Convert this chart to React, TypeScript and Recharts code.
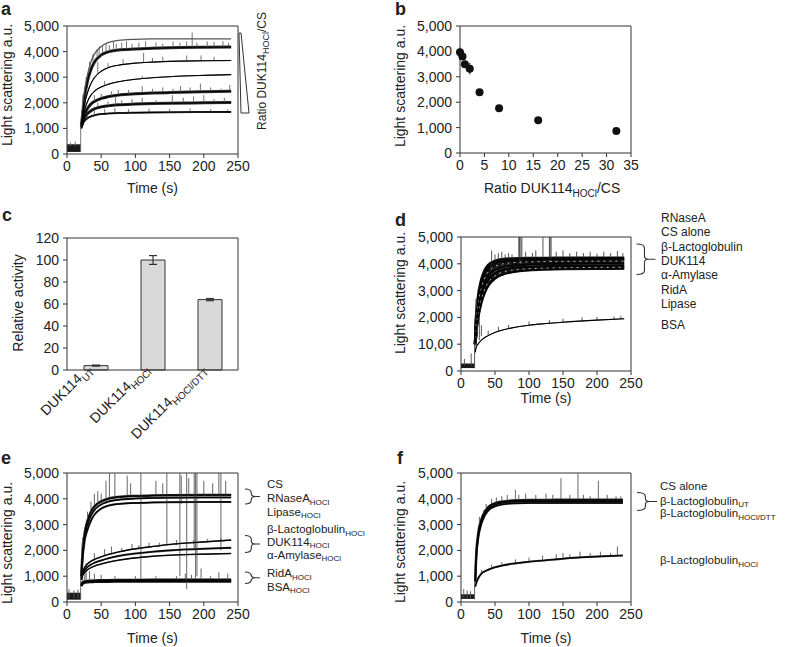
import React from 'react';
import {
  ComposedChart,
  ScatterChart,
  BarChart,
  Line,
  Area,
  Bar,
  Scatter,
  ErrorBar,
  XAxis,
  YAxis,
  CartesianGrid,
} from 'recharts';

// ---------------- DATA ----------------
type Spike = [number, number, number]; // time, low, high

const TICKS_T = [0, 50, 100, 150, 200, 250];
const TICKS_LS = [0, 1000, 2000, 3000, 4000, 5000];
const LS_LABELS = ['0', '1,000', '2,000', '3,000', '4,000', '5,000'];
const D_LS_LABELS = ['0', '10,00', '2,000', '3,000', '4,000', '5,000'];

const TIME_K = [21, 22, 25, 30, 35, 40, 50, 60, 75, 100, 125, 150, 200, 240];
const TIME_F = [21, 22, 25, 30, 35, 40, 50, 60, 75, 100, 125, 150, 200, 238];
const BASE_T = [0, 20];

// panel a
const A1 = [1100, 1400, 2300, 3100, 3600, 3900, 4200, 4350, 4440, 4480, 4495, 4500, 4500, 4500];
const A2 = [1100, 1350, 2100, 2850, 3300, 3580, 3870, 3990, 4060, 4100, 4130, 4150, 4170, 4180];
const A3 = [1100, 1300, 1850, 2400, 2750, 2980, 3230, 3370, 3470, 3550, 3590, 3620, 3640, 3650];
const A4 = [1100, 1250, 1650, 2050, 2300, 2450, 2620, 2720, 2820, 2920, 2980, 3020, 3070, 3100];
const A5 = [1050, 1200, 1500, 1780, 1950, 2050, 2170, 2240, 2300, 2350, 2380, 2400, 2430, 2450];
const A6 = [1050, 1150, 1380, 1580, 1690, 1760, 1840, 1880, 1920, 1950, 1970, 1985, 2000, 2010];
const A7 = [1000, 1100, 1270, 1400, 1470, 1510, 1560, 1580, 1600, 1615, 1625, 1632, 1640, 1645];
const A_BASE_V = [80, 380];
const A_SPIKES: Spike[] = [
  [20, 100, 1150], [5, 300, 450], [12, 300, 480],
  [21.5, 1200, 1700], [23, 1500, 2300], [24, 1400, 2000], [26, 1800, 2500], [28, 2300, 3000],
  [33, 3200, 3600], [38, 3500, 3900], [44, 3750, 4100], [47, 3800, 4200], [52, 3900, 4250],
  [57, 3950, 4300], [62, 4000, 4250], [68, 4000, 4400], [72, 4050, 4300], [80, 4050, 4350],
  [87, 4070, 4400], [95, 4090, 4300], [105, 4100, 4350], [115, 4110, 4400], [130, 4130, 4350],
  [140, 4140, 4300], [155, 4150, 4400], [165, 4160, 4350], [175, 4160, 4400], [183, 4165, 4750],
  [190, 4170, 4350], [205, 4170, 4400], [215, 4175, 4380], [228, 4180, 4400], [236, 4180, 4350],
  [45, 3150, 3600], [60, 3370, 3550], [82, 3500, 3700], [112, 3570, 3950], [125, 3590, 3750],
  [140, 3610, 3800], [175, 3630, 3850], [196, 3640, 3850], [215, 3645, 3800],
  [55, 2670, 2850], [110, 2940, 3050],
  [40, 2050, 2300], [50, 2170, 2350], [65, 2260, 2450], [75, 2300, 2500], [90, 2340, 2500],
  [110, 2360, 2650], [125, 2380, 2550], [140, 2390, 2600], [155, 2405, 2550], [166, 2410, 2650],
  [180, 2420, 2600], [195, 2425, 2750], [210, 2430, 2600], [225, 2440, 2550], [238, 2450, 2700],
  [45, 1800, 2000], [60, 1880, 2050], [71, 1910, 2300], [80, 1930, 2100], [95, 1945, 2150],
  [110, 1960, 2200], [130, 1975, 2100], [154, 1990, 2300], [170, 1995, 2200], [185, 2000, 2250],
  [200, 2000, 2300], [215, 2005, 2150], [230, 2010, 2200],
  [30, 1400, 1600], [40, 1510, 1700], [55, 1570, 1750], [70, 1595, 1800], [90, 1610, 1750],
  [120, 1620, 1780], [150, 1632, 1760], [180, 1637, 1780], [210, 1640, 1760], [235, 1645, 1750],
];

// panel b
const B_RATIO = [0, 0.5, 1, 2, 4, 8, 16, 32];
const B_SCATTER = [3970, 3800, 3490, 3320, 2390, 1760, 1290, 870];
const B_ERR = [180, 80, 60, 230, 60, 100, 50, 50];
const B_TICKS = [0, 5, 10, 15, 20, 25, 30, 35];

// panel c
const C_NAMES = ['DUK114_UT', 'DUK114_HOCl', 'DUK114_HOCl/DTT'];
const C_SUBS = ['UT', 'HOCl', 'HOCl/DTT'];
const C_VALUES = [4, 100, 64];
const C_ERR = [0.5, 4, 1];
const C_TICKS = [0, 20, 40, 60, 80, 100, 120];

// panel d
const D1 = [1000, 1800, 2700, 3400, 3750, 3950, 4100, 4160, 4190, 4205, 4210, 4215, 4220, 4220];
const D2 = [1000, 1700, 2550, 3250, 3620, 3830, 4010, 4080, 4120, 4145, 4155, 4160, 4168, 4170];
const D3 = [1000, 1600, 2400, 3100, 3480, 3700, 3900, 3990, 4040, 4070, 4085, 4090, 4098, 4100];
const D4 = [1000, 1500, 2250, 2950, 3330, 3560, 3780, 3880, 3940, 3980, 4000, 4010, 4018, 4020];
const D5 = [1000, 1450, 2150, 2800, 3180, 3420, 3650, 3770, 3840, 3885, 3905, 3915, 3925, 3930];
const D6 = [1000, 1400, 2050, 2680, 3060, 3300, 3550, 3680, 3760, 3815, 3840, 3852, 3865, 3870];
const D7 = [1000, 1350, 1950, 2550, 2930, 3180, 3450, 3590, 3690, 3760, 3790, 3805, 3815, 3820];
const D8 = [700, 850, 1000, 1150, 1250, 1320, 1440, 1520, 1610, 1710, 1770, 1820, 1900, 1950];
const D_BASE_V = [110, 280];
const D_SPIKES: Spike[] = [
  [20, 100, 1000], [22, 900, 2700], [23, 1500, 2500], [24, 1300, 2400], [27, 1150, 2000],
  [30, 1300, 1700], [5, 200, 450], [15, 200, 650],
  [45, 3900, 4500], [50, 4050, 4350], [55, 4100, 4400], [60, 4150, 4450], [65, 4150, 4350],
  [70, 4170, 4400], [75, 4180, 4350],
  [85, 4100, 5200], [86, 4100, 5200], [88, 4000, 5200], [89.5, 4100, 5200],
  [95, 4200, 4450], [105, 4200, 4400], [110, 4200, 4500], [120.5, 4150, 5100],
  [130, 4100, 5200], [131, 4100, 5200], [132.5, 4050, 5200],
  [140, 4210, 4450], [150, 4215, 4500], [160, 4215, 4400], [170, 4218, 4450], [180, 4218, 4400],
  [190, 4220, 4450], [200, 4220, 4380], [210, 4220, 4450], [220, 4220, 4400], [230, 4220, 4480],
  [238, 4220, 4400],
  [40, 1320, 1500], [55, 1480, 1650], [70, 1590, 1720], [100, 1710, 1850], [130, 1780, 1900],
  [150, 1820, 1950], [178, 1870, 2000], [200, 1900, 2020], [225, 1930, 2030], [235, 1945, 2050],
];

// panel e
const E1 = [1000, 1600, 2500, 3150, 3500, 3700, 3900, 4000, 4070, 4110, 4130, 4140, 4150, 4150];
const E2 = [1000, 1500, 2400, 3000, 3350, 3560, 3780, 3890, 3960, 4010, 4030, 4040, 4050, 4050];
const E3 = [1000, 1400, 2250, 2800, 3150, 3380, 3620, 3730, 3800, 3840, 3860, 3870, 3878, 3880];
const E4 = [900, 1080, 1300, 1480, 1580, 1650, 1750, 1840, 1940, 2060, 2150, 2230, 2330, 2400];
const E5 = [880, 1030, 1200, 1360, 1450, 1520, 1610, 1690, 1780, 1880, 1950, 2000, 2065, 2100];
const E6 = [860, 980, 1120, 1250, 1330, 1390, 1470, 1540, 1620, 1710, 1770, 1810, 1855, 1880];
const E7 = [650, 730, 780, 805, 815, 822, 830, 835, 840, 845, 848, 850, 852, 855];
const E8 = [620, 700, 750, 775, 785, 790, 795, 798, 800, 802, 803, 804, 805, 806];
const E_BASE_V = [90, 360];
const E_SPIKES: Spike[] = [
  [20, 100, 1000], [3, 150, 500], [10, 150, 450], [16, 150, 480],
  [22, 1300, 2300], [23, 1700, 2500], [26, 2200, 2900], [30, 2900, 3500], [35, 3300, 3900],
  [40, 3600, 4200], [45, 3700, 4300], [50, 3800, 4200],
  [57, 3800, 4700], [62, 3850, 5100], [70, 3950, 5100], [88, 4050, 4900], [93, 4050, 4600],
  [108, 900, 5100], [130, 4100, 4700], [140, 4100, 4600], [146, 2200, 5100], [165, 1000, 5100],
  [167, 3800, 4900], [175, 500, 5100], [178, 4100, 4800], [186, 2000, 5000], [188, 900, 5100],
  [190, 1000, 5100], [200, 4100, 4700], [213, 4100, 4600], [222, 4100, 5100], [225, 2000, 5100],
  [232, 4100, 4700],
  [40, 1600, 1900], [55, 1800, 2050], [65, 1900, 2150], [80, 1950, 2100], [95, 2050, 2250],
  [105, 2050, 2200], [120, 2100, 2300], [135, 2150, 2300], [160, 2200, 2400], [185, 2250, 2400],
  [205, 2300, 2450], [225, 2350, 2480],
  [23, 700, 1400], [26, 760, 1200], [28, 780, 1500], [33, 800, 1200], [40, 820, 1100],
  [50, 830, 1050], [70, 840, 1000], [100, 850, 1000], [130, 850, 1000], [160, 855, 1000],
  [173, 855, 1100], [182, 855, 1050], [196, 855, 1300], [210, 855, 1000], [222, 855, 1150],
  [235, 855, 1100],
];

// panel f
const F1 = [800, 1600, 2600, 3200, 3500, 3680, 3830, 3890, 3930, 3950, 3955, 3960, 3960, 3960];
const F2 = [800, 1550, 2500, 3120, 3430, 3610, 3770, 3840, 3880, 3895, 3900, 3900, 3900, 3900];
const F3 = [800, 1500, 2400, 3030, 3350, 3540, 3710, 3780, 3820, 3835, 3840, 3840, 3840, 3840];
const F4 = [600, 700, 900, 1100, 1190, 1250, 1350, 1410, 1480, 1560, 1620, 1680, 1760, 1800];
const F_BASE_V = [120, 300];
const F_SPIKES: Spike[] = [
  [20, 100, 800], [4, 150, 500], [9, 150, 450], [14, 150, 420],
  [27, 2800, 3300], [33, 3300, 3550], [37, 3500, 3800], [45, 3750, 4000], [52, 3850, 4050],
  [60, 3880, 4100], [68, 3900, 4150], [80, 3920, 4350], [85, 3930, 4150], [95, 3940, 4200],
  [110, 3950, 4150], [125, 3950, 4200], [135, 3955, 4150], [147, 3950, 4800], [160, 3960, 4150],
  [172, 3950, 5100], [180, 3960, 4150], [190, 3960, 4100], [202, 3960, 4700], [215, 3960, 4150],
  [228, 3960, 4100], [235, 3960, 4100],
  [30, 1100, 1250], [45, 1300, 1450], [60, 1410, 1550], [80, 1500, 1650], [100, 1560, 1720],
  [120, 1610, 1800], [140, 1660, 1850], [150, 1680, 1900], [160, 1700, 1850], [175, 1720, 1950],
  [190, 1745, 1900], [205, 1765, 1950], [220, 1780, 1900], [230, 1790, 2150],
];

// legends (text)
const D_LEGEND = ['RNaseA', 'CS alone', 'β-Lactoglobulin', 'DUK114', 'α-Amylase', 'RidA', 'Lipase', 'BSA'];
const E_LEGEND: [string, string][] = [
  ['CS', ''], ['RNaseA', 'HOCl'], ['Lipase', 'HOCl'], ['β-Lactoglobulin', 'HOCl'],
  ['DUK114', 'HOCl'], ['α-Amylase', 'HOCl'], ['RidA', 'HOCl'], ['BSA', 'HOCl'],
];
const F_LEGEND: [string, string][] = [
  ['CS alone', ''], ['β-Lactoglobulin', 'UT'], ['β-Lactoglobulin', 'HOCl/DTT'], ['β-Lactoglobulin', 'HOCl'],
];

// ---------------- LAYOUT / STYLE ----------------
const FONT = '"Liberation Sans", Arial, Helvetica, sans-serif';
const INK = '#222';
const AXIS = '#333';
const YW = 70;
const XH = 30;
const MT = 10;
const MR = 12;
const LEG_SIZE = 11.5;
const SUB_SIZE = 8;

type Box = { l: number; r: number; t: number; b: number };
const BOX_A: Box = { l: 67, r: 238, t: 26, b: 154 };
const BOX_B: Box = { l: 460, r: 631, t: 26, b: 153 };
const BOX_C: Box = { l: 67, r: 238, t: 238, b: 370 };
const BOX_D: Box = { l: 461, r: 631, t: 237, b: 371 };
const BOX_E: Box = { l: 67, r: 238, t: 473, b: 602 };
const BOX_F: Box = { l: 461, r: 631, t: 473, b: 602 };

const place = (box: Box, xh = XH) => {
  const left = box.l - YW;
  const top = box.t - MT;
  return { left, top, width: box.r - left + MR, height: box.b - top + xh };
};

type CurveStyle = { raw: number; rawColor?: string; fit: string; fitWidth?: number; dash?: string };

const A_STYLE: CurveStyle[] = [
  { raw: 0, fit: '#555', fitWidth: 1.3 },
  { raw: 3, rawColor: '#2a2a2a', fit: '#000' },
  { raw: 1, rawColor: '#555', fit: '#000' },
  { raw: 1, rawColor: '#555', fit: '#000' },
  { raw: 3, rawColor: '#2a2a2a', fit: '#000' },
  { raw: 3, rawColor: '#2a2a2a', fit: '#000' },
  { raw: 2, rawColor: '#333', fit: '#000' },
];
const D_STYLE: CurveStyle[] = [
  { raw: 3, rawColor: '#111', fit: '#000' },
  { raw: 3, rawColor: '#111', fit: '#000' },
  { raw: 3, rawColor: '#111', fit: '#ddd', fitWidth: 0.8, dash: '2 4' },
  { raw: 3, rawColor: '#111', fit: '#000' },
  { raw: 3, rawColor: '#111', fit: '#000' },
  { raw: 3, rawColor: '#111', fit: '#ddd', fitWidth: 0.8, dash: '2 4' },
  { raw: 2.5, rawColor: '#111', fit: '#000' },
  { raw: 1, rawColor: '#666', fit: '#000' },
];
const E_STYLE: CurveStyle[] = [
  { raw: 2.5, rawColor: '#222', fit: '#000' },
  { raw: 2, rawColor: '#333', fit: '#000' },
  { raw: 2, rawColor: '#333', fit: '#000' },
  { raw: 1.5, rawColor: '#444', fit: '#000' },
  { raw: 2, rawColor: '#333', fit: '#000' },
  { raw: 1.5, rawColor: '#444', fit: '#000' },
  { raw: 3, rawColor: '#111', fit: '#000' },
  { raw: 3, rawColor: '#111', fit: '#000' },
];
const F_STYLE: CurveStyle[] = [
  { raw: 2.5, rawColor: '#333', fit: '#000' },
  { raw: 2, rawColor: '#333', fit: '#000' },
  { raw: 2, rawColor: '#333', fit: '#000' },
  { raw: 2, rawColor: '#333', fit: '#000' },
];

const tickStyle = { fontSize: 14, fill: INK, fontFamily: FONT };

const rows = (times: number[], vals: number[]) => times.map((t, i) => ({ t, v: vals[i] }));
const spikeRows = (sp: Spike[]) =>
  sp.flatMap(([t, lo, hi]) => [{ t, v: lo }, { t, v: hi }, { t, v: null as number | null }]);

const frame = () => (
  <CartesianGrid
    stroke={AXIS}
    strokeWidth={1}
    horizontalCoordinatesGenerator={(p: any) => [p.offset.top]}
    verticalCoordinatesGenerator={(p: any) => [p.offset.left + p.offset.width]}
  />
);

function Kinetic(props: {
  box: Box;
  times: number[];
  series: number[][];
  styles: CurveStyle[];
  spikes: Spike[];
  baseV: number[];
  yLabels: string[];
  spikeColor?: string;
}) {
  const p = place(props.box);
  const band = BASE_T.map((t) => ({ t, band: props.baseV }));
  const sr = spikeRows(props.spikes);
  return (
    <div style={{ position: 'absolute', left: p.left, top: p.top }}>
      <ComposedChart width={p.width} height={p.height} margin={{ top: MT, right: MR, bottom: 0, left: 0 }}>
        {frame()}
        <XAxis
          type="number"
          dataKey="t"
          domain={[0, 250]}
          ticks={TICKS_T}
          interval={0}
          allowDataOverflow
          height={XH}
          tick={tickStyle}
          tickSize={4}
          tickMargin={3}
          axisLine={{ stroke: AXIS }}
          tickLine={{ stroke: AXIS }}
        />
        <YAxis
          type="number"
          domain={[0, 5000]}
          ticks={TICKS_LS}
          interval={0}
          allowDataOverflow
          width={YW}
          tick={tickStyle}
          tickSize={4}
          tickMargin={4}
          axisLine={{ stroke: AXIS }}
          tickLine={{ stroke: AXIS }}
          tickFormatter={(v: number) => props.yLabels[TICKS_LS.indexOf(v)]}
        />
        <Area
          data={band}
          dataKey="band"
          type="linear"
          stroke="none"
          fill="#1a1a1a"
          fillOpacity={1}
          isAnimationActive={false}
        />
        {props.series.map((s, i) =>
          props.styles[i].raw > 0 ? (
            <Line
              key={'raw' + i}
              data={rows(props.times, s)}
              dataKey="v"
              type="monotone"
              dot={false}
              stroke={props.styles[i].rawColor}
              strokeWidth={props.styles[i].raw}
              isAnimationActive={false}
            />
          ) : null
        )}
        <Line
          data={sr}
          dataKey="v"
          type="linear"
          dot={false}
          stroke={props.spikeColor || '#555'}
          strokeWidth={0.9}
          connectNulls={false}
          isAnimationActive={false}
        />
        {props.series.map((s, i) => (
          <Line
            key={'fit' + i}
            data={rows(props.times, s)}
            dataKey="v"
            type="monotone"
            dot={false}
            stroke={props.styles[i].fit}
            strokeWidth={props.styles[i].fitWidth || 1.1}
            strokeDasharray={props.styles[i].dash}
            isAnimationActive={false}
          />
        ))}
      </ComposedChart>
    </div>
  );
}

function PanelB() {
  const p = place(BOX_B);
  const data = B_RATIO.map((x, i) => ({ x, y: B_SCATTER[i], err: B_ERR[i] }));
  return (
    <div style={{ position: 'absolute', left: p.left, top: p.top }}>
      <ScatterChart width={p.width} height={p.height} margin={{ top: MT, right: MR, bottom: 0, left: 0 }}>
        {frame()}
        <XAxis
          type="number"
          dataKey="x"
          domain={[0, 35]}
          ticks={B_TICKS}
          interval={0}
          height={XH}
          tick={tickStyle}
          tickSize={4}
          tickMargin={3}
          axisLine={{ stroke: AXIS }}
          tickLine={{ stroke: AXIS }}
        />
        <YAxis
          type="number"
          dataKey="y"
          domain={[0, 5000]}
          ticks={TICKS_LS}
          interval={0}
          width={YW}
          tick={tickStyle}
          tickSize={4}
          tickMargin={4}
          axisLine={{ stroke: AXIS }}
          tickLine={{ stroke: AXIS }}
          tickFormatter={(v: number) => LS_LABELS[TICKS_LS.indexOf(v)]}
        />
        <Scatter
          data={data}
          isAnimationActive={false}
          shape={(s: any) => <circle cx={s.cx} cy={s.cy} r={4} fill="#111" />}
        >
          <ErrorBar dataKey="err" direction="y" width={0} stroke="#444" strokeWidth={1.2} />
        </Scatter>
      </ScatterChart>
    </div>
  );
}

const CTick = (props: any) => {
  const { x, y, payload } = props;
  const i = C_NAMES.indexOf(payload.value);
  return (
    <g transform={`translate(${x - 3},${y - 2})`}>
      <text transform="rotate(-45)" textAnchor="end" fontSize={14} fontFamily={FONT} fill={INK}>
        DUK114
        <tspan dy={4} fontSize={10}>
          {C_SUBS[i]}
        </tspan>
      </text>
    </g>
  );
};

function PanelC() {
  const p = place(BOX_C, 90);
  const data = C_NAMES.map((name, i) => ({ name, v: C_VALUES[i], err: C_ERR[i] }));
  return (
    <div style={{ position: 'absolute', left: p.left, top: p.top }}>
      <BarChart width={p.width} height={p.height} data={data} margin={{ top: MT, right: MR, bottom: 0, left: 0 }}>
        {frame()}
        <XAxis
          dataKey="name"
          interval={0}
          height={90}
          tick={<CTick />}
          tickSize={0}
          tickMargin={2}
          axisLine={{ stroke: AXIS }}
          tickLine={false}
        />
        <YAxis
          type="number"
          domain={[0, 120]}
          ticks={C_TICKS}
          interval={0}
          width={YW}
          tick={tickStyle}
          tickSize={4}
          tickMargin={4}
          axisLine={{ stroke: AXIS }}
          tickLine={{ stroke: AXIS }}
        />
        <Bar dataKey="v" fill="#d9d9d9" stroke="#333" strokeWidth={1} barSize={24} isAnimationActive={false}>
          <ErrorBar dataKey="err" direction="y" width={4} stroke="#333" strokeWidth={1.2} />
        </Bar>
      </BarChart>
    </div>
  );
}

// ---------------- OVERLAY TEXT ----------------
const bracketPath = (x: number, y1: number, y2: number, w: number) => {
  const m = (y1 + y2) / 2;
  const xm = x + w * 0.42;
  return (
    `M${x},${y1} Q${xm},${y1} ${xm},${y1 + 4} L${xm},${m - 3} Q${xm},${m} ${xm + 4},${m} L${x + w},${m} ` +
    `M${xm + 4},${m} Q${xm},${m} ${xm},${m + 3} L${xm},${y2 - 4} Q${xm},${y2} ${x},${y2}`
  );
};

const D_LEG_Y = [221.7, 235.7, 250.5, 264.5, 279, 294, 308, 328.7];
const E_LEG_Y = [488.3, 502.3, 515.7, 533, 545.5, 558.5, 577.3, 590.7];
const F_LEG_Y = [490, 504.5, 517, 564.3];

function Overlay() {
  const txt = { fontFamily: FONT, fill: INK };
  const ylab = (x: number, y: number, s: string) => (
    <text transform={`translate(${x},${y}) rotate(-90)`} textAnchor="middle" fontSize={14} {...txt}>
      {s}
    </text>
  );
  const letter = (x: number, y: number, s: string) => (
    <text x={x} y={y} fontSize={18} fontWeight="bold" {...txt}>
      {s}
    </text>
  );
  const sub = (s: string) =>
    s ? (
      <tspan dy={2.5} fontSize={SUB_SIZE}>
        {s}
      </tspan>
    ) : null;
  return (
    <svg
      width={788}
      height={647}
      style={{ position: 'absolute', left: 0, top: 0, pointerEvents: 'none' }}
    >
      {letter(1, 15, 'a')}
      {letter(395, 15, 'b')}
      {letter(2, 221, 'c')}
      {letter(395, 226, 'd')}
      {letter(1, 464, 'e')}
      {letter(397, 464, 'f')}

      {ylab(12, 85, 'Light scattering a.u.')}
      {ylab(405, 86, 'Light scattering a.u.')}
      {ylab(22.5, 303, 'Relative activity')}
      {ylab(405, 293, 'Light scattering a.u.')}
      {ylab(12, 543, 'Light scattering a.u.')}
      {ylab(405, 542, 'Light scattering a.u.')}

      <text x={152.5} y={193} textAnchor="middle" fontSize={14} {...txt}>Time (s)</text>
      <text x={546} y={403} textAnchor="middle" fontSize={14} {...txt}>Time (s)</text>
      <text x={152.5} y={643} textAnchor="middle" fontSize={14} {...txt}>Time (s)</text>
      <text x={546} y={643} textAnchor="middle" fontSize={14} {...txt}>Time (s)</text>
      <text x={484} y={193} fontSize={14} {...txt}>
        Ratio DUK114<tspan dy={4} fontSize={10}>HOCl</tspan>
        <tspan dy={-4}>/CS</tspan>
      </text>

      {/* wedge and rotated ratio label in a */}
      <path d="M239,33 L241,33 L249,113 L241,113 Z" fill="none" stroke="#333" strokeWidth={1} />
      <text transform="translate(265.5,71) rotate(-90)" textAnchor="middle" fontSize={12} {...txt}>
        Ratio DUK114<tspan dy={3} fontSize={9}>HOCl</tspan>
        <tspan dy={-3}>/CS</tspan>
      </text>

      {/* legend d */}
      {D_LEGEND.map((s, i) => (
        <text key={'d' + i} x={661} y={D_LEG_Y[i]} fontSize={LEG_SIZE + 0.5} {...txt}>
          {s}
        </text>
      ))}
      <path d={bracketPath(636.5, 244, 274.5, 19)} fill="none" stroke="#333" strokeWidth={1.1} />

      {/* legend e */}
      {E_LEGEND.map(([s, sb], i) => (
        <text key={'e' + i} x={267} y={E_LEG_Y[i]} fontSize={LEG_SIZE} {...txt}>
          {s}
          {sub(sb)}
        </text>
      ))}
      <path d={bracketPath(245, 489, 504, 15)} fill="none" stroke="#333" strokeWidth={1.1} />
      <path d={bracketPath(245, 535.5, 552.5, 15)} fill="none" stroke="#333" strokeWidth={1.1} />
      <path d={bracketPath(245, 572, 583.5, 15)} fill="none" stroke="#333" strokeWidth={1.1} />

      {/* legend f */}
      {F_LEGEND.map(([s, sb], i) => (
        <text key={'f' + i} x={660} y={F_LEG_Y[i]} fontSize={LEG_SIZE} {...txt}>
          {s}
          {sub(sb)}
        </text>
      ))}
      <path d={bracketPath(637, 492.5, 510.5, 20)} fill="none" stroke="#333" strokeWidth={1.1} />
    </svg>
  );
}

export default function App() {
  return (
    <div style={{ position: 'absolute', left: 0, top: 0, width: 788, height: 647, background: '#fff', overflow: 'hidden' }}>
      <Kinetic box={BOX_A} times={TIME_K} series={[A1, A2, A3, A4, A5, A6, A7]} styles={A_STYLE} spikes={A_SPIKES} baseV={A_BASE_V} yLabels={LS_LABELS} spikeColor="#666" />
      <PanelB />
      <PanelC />
      <Kinetic box={BOX_D} times={TIME_K} series={[D1, D2, D3, D4, D5, D6, D7, D8]} styles={D_STYLE} spikes={D_SPIKES} baseV={D_BASE_V} yLabels={D_LS_LABELS} spikeColor="#444" />
      <Kinetic box={BOX_E} times={TIME_K} series={[E1, E2, E3, E4, E5, E6, E7, E8]} styles={E_STYLE} spikes={E_SPIKES} baseV={E_BASE_V} yLabels={LS_LABELS} spikeColor="#555" />
      <Kinetic box={BOX_F} times={TIME_F} series={[F1, F2, F3, F4]} styles={F_STYLE} spikes={F_SPIKES} baseV={F_BASE_V} yLabels={LS_LABELS} spikeColor="#555" />
      <Overlay />
    </div>
  );
}
